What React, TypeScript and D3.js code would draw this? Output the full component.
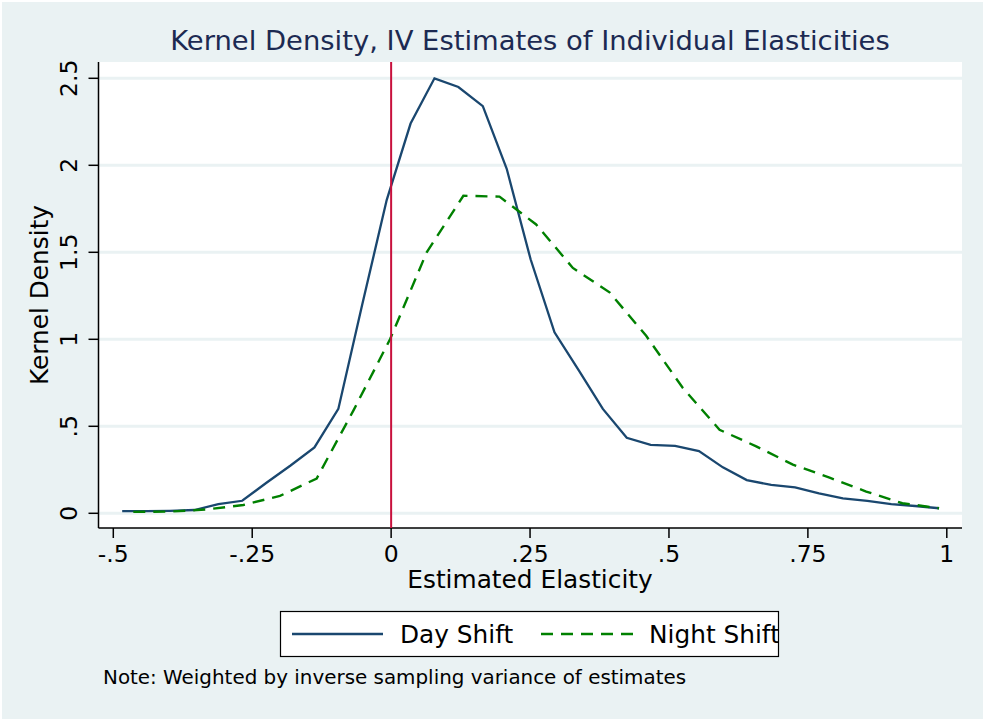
import React from "react";
import * as d3 from "d3";

const dayX = [-0.484, -0.441, -0.398, -0.354, -0.311, -0.268, -0.225, -0.181, -0.138, -0.095, -0.052, -0.008, 0.035, 0.078, 0.121, 0.165, 0.208, 0.251, 0.294, 0.338, 0.381, 0.424, 0.467, 0.511, 0.554, 0.597, 0.64, 0.684, 0.727, 0.77, 0.813, 0.857, 0.9, 0.943, 0.986];
const dayY = [0.012, 0.012, 0.014, 0.019, 0.053, 0.072, 0.174, 0.275, 0.379, 0.6, 1.2, 1.8, 2.24, 2.5, 2.45, 2.34, 1.98, 1.46, 1.04, 0.82, 0.6, 0.434, 0.393, 0.387, 0.358, 0.264, 0.191, 0.163, 0.149, 0.115, 0.086, 0.071, 0.053, 0.042, 0.029];

const nightX = [-0.464, -0.398, -0.332, -0.266, -0.2, -0.134, -0.068, -0.002, 0.064, 0.13, 0.195, 0.261, 0.327, 0.393, 0.459, 0.525, 0.591, 0.657, 0.723, 0.789, 0.855, 0.92, 0.986];
const nightY = [0.008, 0.01, 0.022, 0.048, 0.1, 0.2, 0.59, 1.0, 1.5, 1.825, 1.82, 1.66, 1.41, 1.27, 1.02, 0.72, 0.48, 0.385, 0.28, 0.205, 0.125, 0.058, 0.029];

const xTicks = [-0.5, -0.25, 0, 0.25, 0.5, 0.75, 1];
const xTickLabels = ["-.5", "-.25", "0", ".25", ".5", ".75", "1"];
const yTicks = [0, 0.5, 1, 1.5, 2, 2.5];
const yTickLabels = ["0", ".5", "1", "1.5", "2", "2.5"];

const title = "Kernel Density, IV Estimates of Individual Elasticities";
const xTitle = "Estimated Elasticity";
const yTitle = "Kernel Density";
const seriesNames = ["Day Shift", "Night Shift"];
const note = "Note: Weighted by inverse sampling variance of estimates";
const refLine = 0;

const W = 985;
const H = 721;
const FONT = "DejaVu Sans, sans-serif";
const BG = "#EAF2F3";
const DAY = "#1a476f";
const NIGHT = "#008000";
const RED = "#c8103c";

export default function App() {
  const plotL = 98.5, plotR = 962, plotT = 62, plotB = 528;
  const x = d3.scaleLinear().domain([-0.5, 1]).range([113.3, 946.8]);
  const y = d3.scaleLinear().domain([0, 2.5]).range([513.3, 78.3]);
  const line = d3.line<[number, number]>().x((d) => x(d[0])).y((d) => y(d[1]));
  const dayPath = line(dayX.map((v, i) => [v, dayY[i]]) as [number, number][]) || "";
  const nightPath = line(nightX.map((v, i) => [v, nightY[i]]) as [number, number][]) || "";

  return (
    <svg width={W} height={H} style={{ position: "absolute", left: 0, top: 0 }} fontFamily={FONT}>
      <rect x={0} y={0} width={W} height={H} fill="#ffffff" />
      <rect x={2} y={2} width={W - 4} height={H - 4} fill={BG} />
      <rect x={plotL} y={plotT} width={plotR - plotL} height={plotB - plotT} fill="#ffffff" />
      {yTicks.map((t) => (
        <line key={"g" + t} x1={plotL} x2={plotR} y1={y(t)} y2={y(t)} stroke={BG} strokeWidth={3} />
      ))}
      <text x={530} y={50} textAnchor="middle" fontSize={27.4} fill="#1c2a52">{title}</text>
      {/* y axis */}
      <line x1={plotL} x2={plotL} y1={plotT} y2={plotB} stroke="#000" strokeWidth={1.5} />
      {yTicks.map((t, i) => (
        <g key={"yt" + t}>
          <line x1={plotL - 10} x2={plotL} y1={y(t)} y2={y(t)} stroke="#000" strokeWidth={1.5} />
          <text transform={`translate(${77},${y(t)}) rotate(-90)`} textAnchor="middle" fontSize={23.5} fill="#000">
            {yTickLabels[i]}
          </text>
        </g>
      ))}
      <text transform={`translate(${48},${(plotT + plotB) / 2}) rotate(-90)`} textAnchor="middle" fontSize={24.8} fill="#000">
        {yTitle}
      </text>
      {/* x axis */}
      <line x1={plotL} x2={plotR} y1={plotB} y2={plotB} stroke="#000" strokeWidth={1.5} />
      {xTicks.map((t, i) => (
        <g key={"xt" + t}>
          <line x1={x(t)} x2={x(t)} y1={plotB} y2={plotB + 10} stroke="#000" strokeWidth={1.5} />
          <text x={x(t)} y={562} textAnchor="middle" fontSize={23.5} fill="#000">{xTickLabels[i]}</text>
        </g>
      ))}
      <text x={530} y={588} textAnchor="middle" fontSize={24.8} fill="#000">{xTitle}</text>
      {/* series */}
      <path d={dayPath} fill="none" stroke={DAY} strokeWidth={2.3} strokeLinejoin="miter" />
      <path d={nightPath} fill="none" stroke={NIGHT} strokeWidth={2.4} strokeDasharray="12,8" />
      <line x1={x(refLine)} x2={x(refLine)} y1={plotT} y2={plotB} stroke={RED} strokeWidth={2} />
      {/* legend */}
      <rect x={280.5} y={611.5} width={498} height={45} fill="#ffffff" stroke="#000" strokeWidth={1.2} />
      <line x1={292} x2={383} y1={634} y2={634} stroke={DAY} strokeWidth={2.3} />
      <text x={400} y={643} fontSize={24.8} fill="#000">{seriesNames[0]}</text>
      <line x1={541} x2={633} y1={634} y2={634} stroke={NIGHT} strokeWidth={2.4} strokeDasharray="12,8" />
      <clipPath id="legclip"><rect x={280} y={611} width={499} height={46} /></clipPath>
      <text x={649} y={643} fontSize={24.8} fill="#000" clipPath="url(#legclip)">{seriesNames[1]}</text>
      <text x={103} y={684} fontSize={19.9} fill="#000">{note}</text>
    </svg>
  );
}
